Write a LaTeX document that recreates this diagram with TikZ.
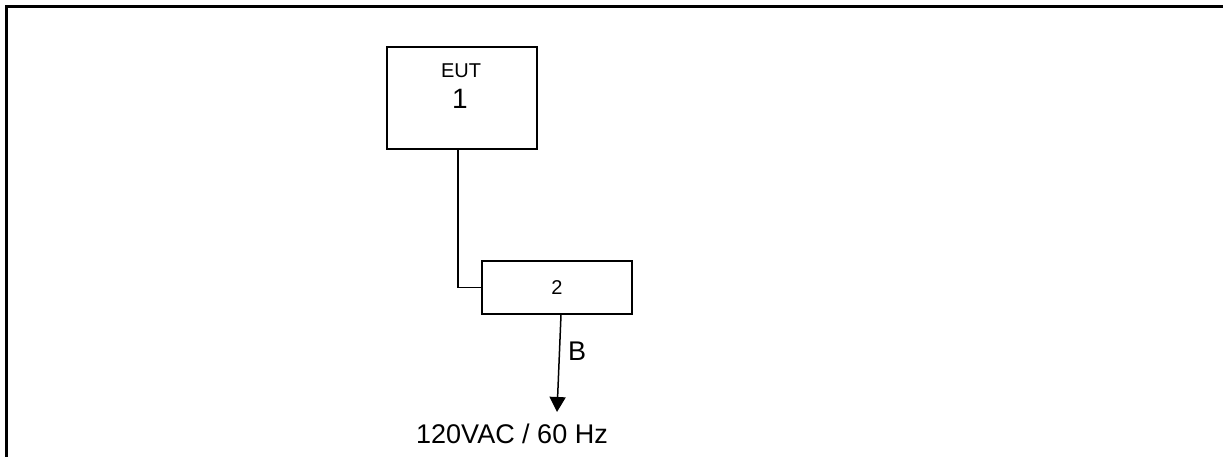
\documentclass[tikz,border=0pt]{standalone}
\usepackage{fontspec}
\setmainfont{Liberation Sans}
\usetikzlibrary{arrows.meta}
\begin{document}
\begin{tikzpicture}[x=1pt,y=-1pt,
  box/.style={draw,line width=1.5pt,minimum width=150pt,inner sep=0pt},
  wire/.style={line width=1.5pt},
  big/.style={font=\fontsize{27}{32}\selectfont},
  small/.style={font=\fontsize{20}{24}\selectfont}]
\useasboundingbox (0,0) rectangle (1223,457);
\draw[line width=2.5pt] (6.5,460) -- (6.5,6.5) -- (1226,6.5);
\node[box,minimum height=102pt] (eut) at (462,98) {};
\node[small,anchor=base] (eutlbl) at (461,78) {EUT};
\node[font=\fontsize{28}{32}\selectfont,anchor=base] (eutnum) at (460,109) {1};
\node[box,minimum height=53pt,small] (b2) at (557,287.5) {2};
\draw[wire] ([xshift=-4pt]eut.south) |- (b2.west);
\coordinate (tip) at (557,412);
\draw[wire,-{Triangle[length=15pt,width=16pt]}] ([xshift=4pt]b2.south) -- (tip);
\node[big] (blbl) at (577,351) {B};
\node[big] (src) at (512,434) {120VAC / 60 Hz};
\end{tikzpicture}
\end{document}
